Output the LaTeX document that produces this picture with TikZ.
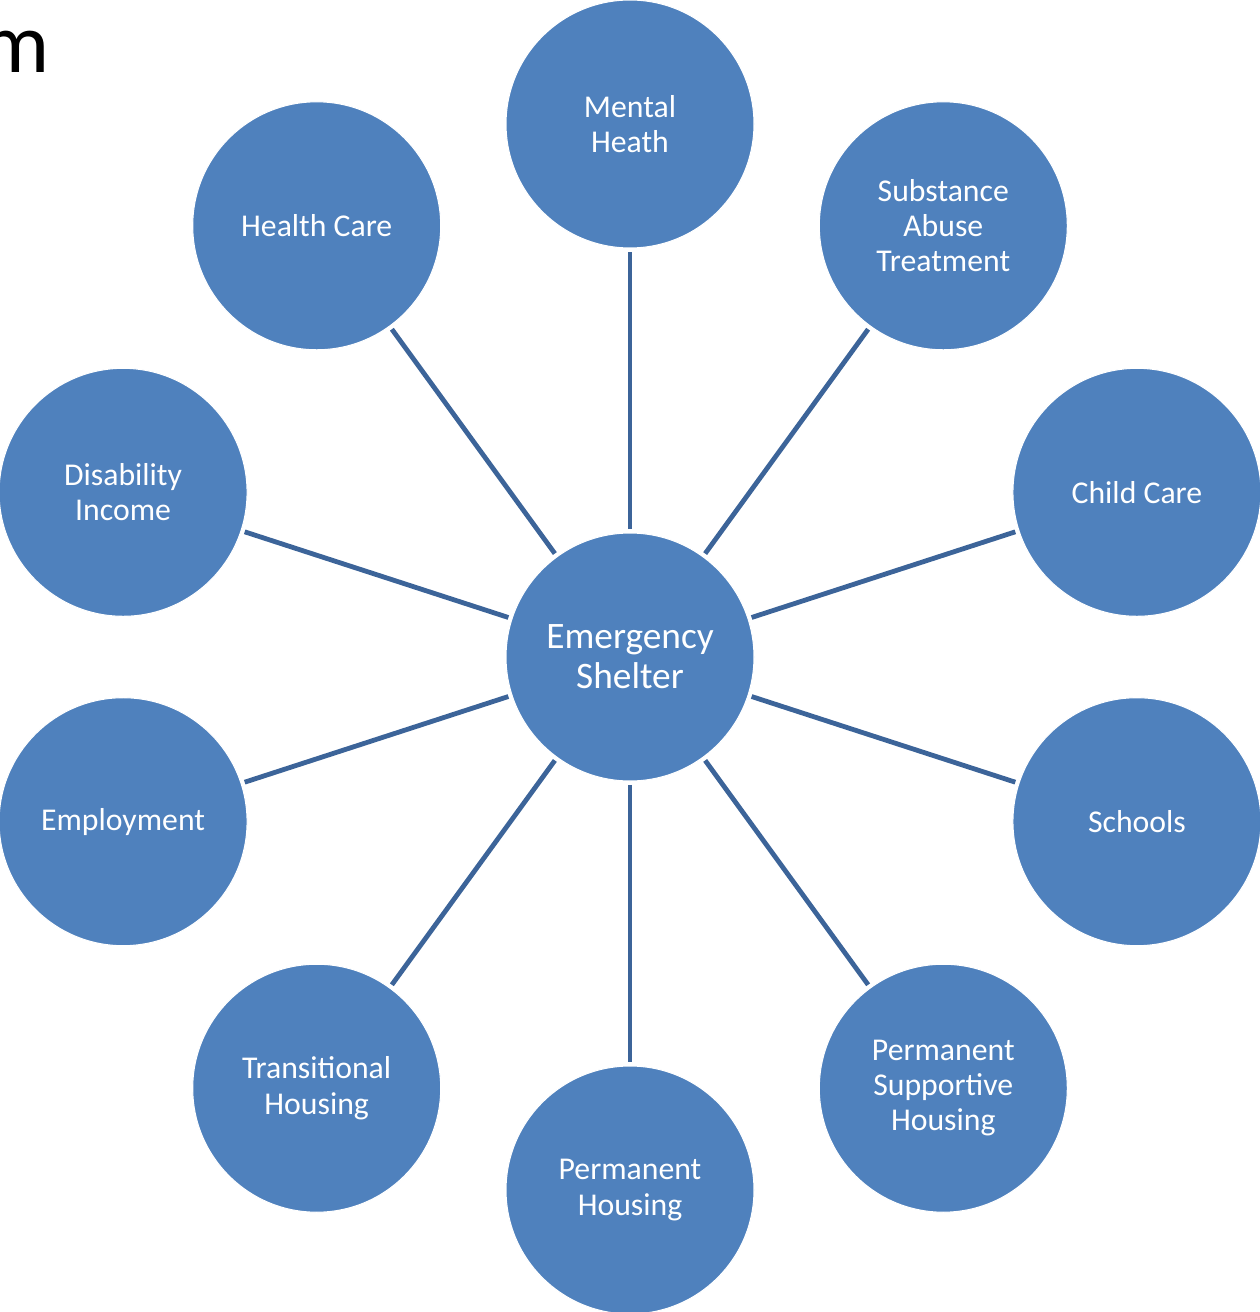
\documentclass[tikz,border=0pt]{standalone}
\usepackage{fontspec}
\setmainfont{Carlito}
\definecolor{cfill}{HTML}{4F81BD}
\definecolor{cline}{HTML}{3C6499}
\begin{document}
\begin{tikzpicture}[x=0.75pt,y=0.75pt,
  bub/.style={circle,fill=cfill,draw=white,line width=0.8pt,inner sep=0pt,minimum size=186pt,
    text=white,align=center,font=\fontsize{23.8}{26.3}\selectfont},
  hub/.style={bub,font=\fontsize{28}{30}\selectfont},
  conn/.style={draw=cline,line width=3.6pt,shorten <=2.5pt,shorten >=2.5pt}]
\useasboundingbox (0,0) rectangle (1259,-1312);
\node[anchor=base east,font=\fontsize{64}{70}\selectfont,inner sep=0pt] (title) at (50,-73) {m};
\node[hub] (c) at (630,-657) {Emergency\\Shelter};
\begin{scope}[shift={(630,-657)}]
\node[bub] (n1) at (90:533) {Mental\\Heath};
\node[bub] (n2) at (54:533) {Substance\\Abuse\\Treatment};
\node[bub] (n3) at (18:533) {Child Care};
\node[bub] (n4) at (-18:533) {Schools};
\node[bub] (n5) at (-54:533) {Permanent\\Supportive\\Housing};
\node[bub] (n6) at (-90:533) {Permanent\\Housing};
\node[bub] (n7) at (-126:533) {Transitional\\Housing};
\node[bub] (n8) at (-162:533) {Employment};
\node[bub] (n9) at (162:533) {Disability\\Income};
\node[bub] (n10) at (126:533) {Health Care};
\end{scope}
\foreach \i in {1,...,10} {\draw[conn] (c) -- (n\i);}
\end{tikzpicture}
\end{document}
